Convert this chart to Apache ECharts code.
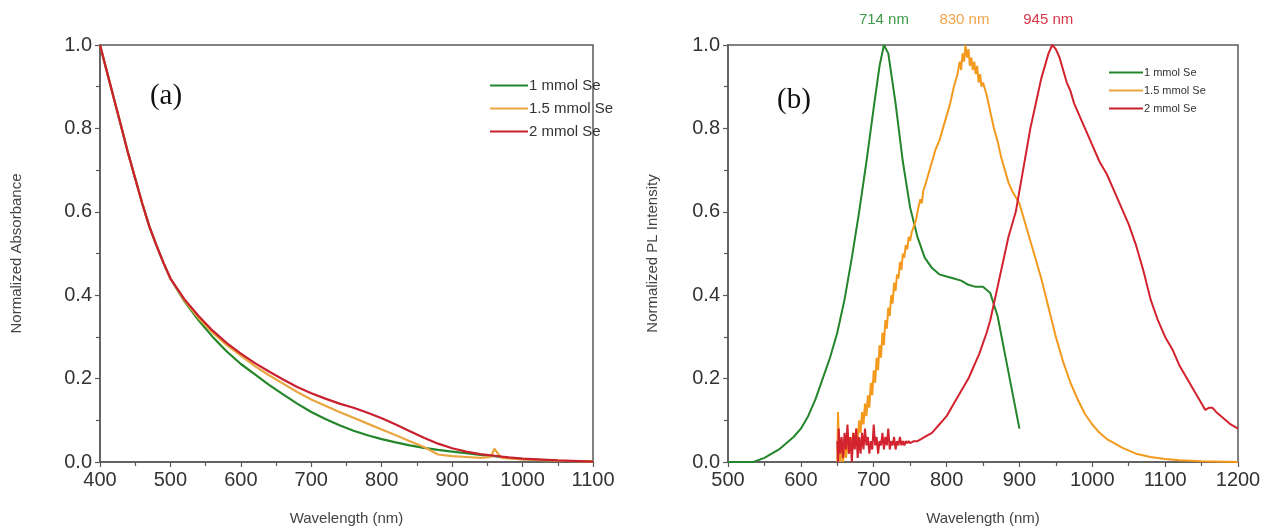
<!DOCTYPE html>
<html><head><meta charset="utf-8">
<script src="https://cdn.jsdelivr.net/npm/echarts@6/dist/echarts.min.js"></script>
<style>html,body{margin:0;padding:0;background:#fff}#c{width:1267px;height:528px}</style>
</head><body><div id="c"></div>
<script>
// ---------- Data ----------
const seriesNames = ['1 mmol Se', '1.5 mmol Se', '2 mmol Se'];
const peakLabels = ['714 nm', '830 nm', '945 nm'];
const peakPositions = [714, 830, 945];
const panelLabels = ['(a)', '(b)'];

// (a) absorbance
const absGreen = [[400,1.0],[410,0.935],[420,0.87],[430,0.805],[440,0.74],[450,0.68],[460,0.62],[470,0.565],[480,0.52],[490,0.478],[500,0.44],[520,0.385],[540,0.34],[560,0.3],[580,0.265],[600,0.235],[620,0.21],[640,0.185],[660,0.162],[680,0.14],[700,0.12],[720,0.103],[740,0.088],[760,0.075],[780,0.064],[800,0.055],[820,0.047],[840,0.04],[860,0.034],[880,0.029],[900,0.025],[920,0.021],[940,0.017],[960,0.014],[980,0.01],[1000,0.007],[1050,0.003],[1100,0.001]];
const absOrange = [[400,1.0],[410,0.935],[420,0.87],[430,0.805],[440,0.74],[450,0.68],[460,0.62],[470,0.565],[480,0.52],[490,0.478],[500,0.44],[520,0.387],[540,0.345],[560,0.31],[580,0.28],[600,0.255],[620,0.23],[640,0.208],[660,0.188],[680,0.168],[700,0.15],[720,0.135],[740,0.12],[760,0.106],[780,0.092],[800,0.078],[820,0.064],[840,0.05],[860,0.036],[880,0.018],[900,0.014],[920,0.012],[940,0.01],[955,0.012],[960,0.032],[965,0.02],[970,0.01],[1000,0.006],[1050,0.003],[1100,0.001]];
const absRed = [[400,1.0],[410,0.935],[420,0.87],[430,0.805],[440,0.74],[450,0.68],[460,0.62],[470,0.565],[480,0.52],[490,0.478],[500,0.44],[520,0.39],[540,0.35],[560,0.315],[580,0.285],[600,0.26],[620,0.237],[640,0.217],[660,0.198],[680,0.18],[700,0.165],[720,0.152],[740,0.14],[760,0.13],[780,0.118],[800,0.105],[820,0.09],[840,0.074],[860,0.058],[880,0.044],[900,0.033],[920,0.025],[940,0.019],[960,0.015],[980,0.011],[1000,0.008],[1050,0.004],[1100,0.001]];

// (b) PL
const plGreen = [[500,0],[520,0],[535,0],[550,0.01],[560,0.02],[570,0.03],[580,0.045],[590,0.06],[600,0.08],[610,0.11],[620,0.15],[630,0.2],[640,0.25],[650,0.31],[660,0.39],[670,0.49],[680,0.6],[690,0.72],[700,0.85],[708,0.95],[714,1.0],[720,0.98],[730,0.86],[740,0.72],[750,0.61],[760,0.54],[770,0.49],[780,0.465],[790,0.45],[800,0.445],[810,0.44],[820,0.435],[830,0.425],[840,0.42],[850,0.42],[860,0.405],[870,0.35],[880,0.26],[890,0.17],[900,0.08]];
const plOrange = [[650,0.0],[651,0.12],[652,0.06],[654,0.0],[656,0.03],[658,0.0],[660,0.04],[662,0.01],[664,0.05],[666,0.02],[668,0.06],[670,0.03],[672,0.07],[674,0.04],[676,0.08],[678,0.05],[680,0.1],[682,0.07],[684,0.12],[686,0.09],[688,0.14],[690,0.11],[692,0.16],[694,0.13],[696,0.19],[698,0.16],[700,0.22],[702,0.19],[704,0.25],[706,0.22],[708,0.28],[710,0.25],[712,0.31],[714,0.28],[716,0.34],[718,0.32],[720,0.37],[722,0.35],[724,0.4],[726,0.38],[728,0.43],[730,0.41],[732,0.45],[734,0.44],[736,0.48],[738,0.46],[740,0.5],[742,0.49],[744,0.52],[746,0.51],[748,0.54],[750,0.53],[752,0.55],[754,0.56],[756,0.57],[758,0.58],[760,0.6],[762,0.6],[764,0.63],[766,0.62],[768,0.65],[770,0.66],[775,0.69],[780,0.72],[785,0.75],[790,0.77],[795,0.8],[800,0.83],[805,0.86],[810,0.9],[815,0.93],[818,0.96],[820,0.94],[822,0.98],[824,0.96],[826,1.0],[828,0.97],[830,0.99],[832,0.95],[834,0.97],[836,0.94],[838,0.96],[840,0.93],[842,0.95],[844,0.91],[846,0.93],[848,0.9],[850,0.91],[855,0.88],[860,0.84],[865,0.8],[870,0.77],[875,0.73],[880,0.7],[885,0.67],[890,0.65],[900,0.62],[910,0.56],[920,0.5],[930,0.44],[940,0.37],[950,0.3],[960,0.24],[970,0.19],[980,0.15],[990,0.115],[1000,0.09],[1010,0.07],[1020,0.055],[1030,0.045],[1040,0.035],[1060,0.02],[1080,0.012],[1100,0.007],[1120,0.004],[1150,0.002],[1200,0.0]];
const plRed = [[650,0.05],[651,0.0],[652,0.08],[654,0.02],[656,0.06],[658,0.01],[660,0.07],[662,0.03],[664,0.09],[666,0.02],[668,0.06],[670,0.0],[672,0.07],[674,0.03],[676,0.08],[678,0.01],[680,0.06],[682,0.02],[684,0.07],[686,0.03],[688,0.08],[690,0.04],[692,0.06],[694,0.02],[696,0.05],[698,0.03],[700,0.09],[702,0.04],[704,0.06],[706,0.02],[708,0.05],[710,0.04],[712,0.07],[714,0.03],[716,0.06],[718,0.04],[720,0.08],[722,0.03],[724,0.05],[726,0.04],[728,0.06],[730,0.03],[732,0.05],[734,0.04],[736,0.06],[738,0.04],[740,0.05],[742,0.04],[744,0.05],[746,0.045],[748,0.05],[750,0.045],[755,0.05],[760,0.05],[765,0.055],[770,0.06],[775,0.065],[780,0.07],[785,0.08],[790,0.09],[795,0.1],[800,0.11],[805,0.125],[810,0.14],[815,0.155],[820,0.17],[825,0.185],[830,0.2],[835,0.22],[840,0.24],[845,0.26],[850,0.285],[855,0.31],[860,0.34],[865,0.38],[870,0.42],[875,0.46],[880,0.5],[885,0.54],[890,0.57],[895,0.6],[900,0.65],[905,0.7],[910,0.75],[915,0.8],[920,0.84],[925,0.88],[930,0.92],[935,0.95],[940,0.98],[945,1.0],[950,0.99],[955,0.97],[960,0.94],[965,0.91],[970,0.89],[975,0.86],[980,0.84],[985,0.82],[990,0.8],[1000,0.76],[1010,0.72],[1020,0.69],[1030,0.65],[1040,0.61],[1050,0.57],[1060,0.52],[1070,0.46],[1080,0.39],[1090,0.34],[1100,0.3],[1110,0.27],[1120,0.23],[1130,0.2],[1140,0.17],[1150,0.14],[1155,0.125],[1160,0.13],[1165,0.13],[1170,0.12],[1180,0.105],[1190,0.09],[1200,0.08]];

// ---------- Chart ----------
const FONT = 'Liberation Sans, Arial, sans-serif';
const axisColor = '#5a5a5a';

function xAxis(idx, min, max, name, gap) {
  return {
    type: 'value', gridIndex: idx, min: min, max: max, interval: 100,
    name: name, nameLocation: 'middle', nameGap: gap,
    nameTextStyle: { fontFamily: FONT, fontSize: 15, color: '#444' },
    axisLine: { show: true, lineStyle: { color: axisColor, width: 1.5 } },
    axisTick: { show: true, inside: false, length: 5, lineStyle: { color: axisColor, width: 1.2 } },
    minorTick: { show: true, splitNumber: 2, length: 4, lineStyle: { color: axisColor, width: 1.2 } },
    axisLabel: { fontFamily: FONT, fontSize: 20, color: '#333', margin: 8, formatter: v => String(v) },
    splitLine: { show: false }
  };
}
function yAxis(idx, name, gap) {
  return {
    type: 'value', gridIndex: idx, min: 0, max: 1, interval: 0.2,
    name: name, nameLocation: 'middle', nameGap: gap,
    nameTextStyle: { fontFamily: FONT, fontSize: 15, color: '#444' },
    axisLine: { show: true, lineStyle: { color: axisColor, width: 1.5 } },
    axisTick: { show: true, inside: false, length: 5, lineStyle: { color: axisColor, width: 1.2 } },
    minorTick: { show: true, splitNumber: 2, length: 4, lineStyle: { color: axisColor, width: 1.2 } },
    axisLabel: { fontFamily: FONT, fontSize: 20, color: '#333', margin: 8, formatter: v => v.toFixed(1) },
    splitLine: { show: false }
  };
}
function line(name, data, xi, color, width, extra) {
  return Object.assign({
    name: name, type: 'line', xAxisIndex: xi, yAxisIndex: xi, data: data,
    showSymbol: false, symbol: 'none', smooth: false, animation: false,
    lineStyle: { color: color, width: width }, itemStyle: { color: color }
  }, extra || {});
}
function peakMark(label, x, color, offX) {
  return {
    silent: true, symbol: 'circle', symbolSize: 0,
    data: [{ coord: [x, 1.0], value: label }],
    label: { show: true, position: 'top', distance: 18, offset: [offX, 0],
      formatter: label, fontFamily: FONT, fontSize: 15, color: color }
  };
}

const chart = echarts.init(document.getElementById('c'), null, { renderer: 'canvas' });
chart.setOption({
  backgroundColor: '#fff',
  animation: false,
  grid: [
    { left: 100, top: 45, width: 493, height: 417, show: true, borderColor: axisColor, borderWidth: 1.5, backgroundColor: 'transparent', containLabel: false, outerBoundsMode: 'none' },
    { left: 728, top: 45, width: 510, height: 417, show: true, borderColor: axisColor, borderWidth: 1.5, backgroundColor: 'transparent', containLabel: false, outerBoundsMode: 'none' }
  ],
  xAxis: [ xAxis(0, 400, 1100, 'Wavelength (nm)', 49), xAxis(1, 500, 1200, 'Wavelength (nm)', 49) ],
  yAxis: [ yAxis(0, 'Normalized Absorbance', 76), yAxis(1, 'Normalized PL Intensity', 68) ],
  legend: [
    { orient: 'vertical', left: 485, top: 73, itemWidth: 38, itemHeight: 10, itemGap: 8,
      data: seriesNames, textStyle: { fontFamily: FONT, fontSize: 15, color: '#333', padding: [0,0,0,-4] },
      selectedMode: false, icon: 'path://M0,4 L38,4 L38,6 L0,6 Z' },
    { orient: 'vertical', left: 1104, top: 62, itemWidth: 34, itemHeight: 8, itemGap: 7,
      data: seriesNames, textStyle: { fontFamily: FONT, fontSize: 11, color: '#333', padding: [0,0,0,-4] },
      selectedMode: false, icon: 'path://M0,3 L34,3 L34,5 L0,5 Z' }
  ],
  graphic: [
    { type: 'text', x: 166, y: 96, style: { text: panelLabels[0], font: '29px "Liberation Serif", "Times New Roman", serif', fill: '#111', textAlign: 'center', textVerticalAlign: 'middle' } },
    { type: 'text', x: 794, y: 100, style: { text: panelLabels[1], font: '29px "Liberation Serif", "Times New Roman", serif', fill: '#111', textAlign: 'center', textVerticalAlign: 'middle' } }
  ],
  series: [
    line(seriesNames[0], absGreen, 0, '#23862a', 2.2),
    line(seriesNames[1], absOrange, 0, '#e9a640', 2.2),
    line(seriesNames[2], absRed, 0, '#c8202e', 2.2),
    line(seriesNames[0], plGreen, 1, '#23862a', 2, { markPoint: peakMark(peakLabels[0], peakPositions[0], '#3d9a4a', 0) }),
    line(seriesNames[1], plOrange, 1, '#f39a1e', 2, { markPoint: peakMark(peakLabels[1], peakPositions[1], '#f0a54a', -4) }),
    line(seriesNames[2], plRed, 1, '#d2232f', 2, { markPoint: peakMark(peakLabels[2], peakPositions[2], '#d8374a', -4) })
  ]
});
</script></body></html>
